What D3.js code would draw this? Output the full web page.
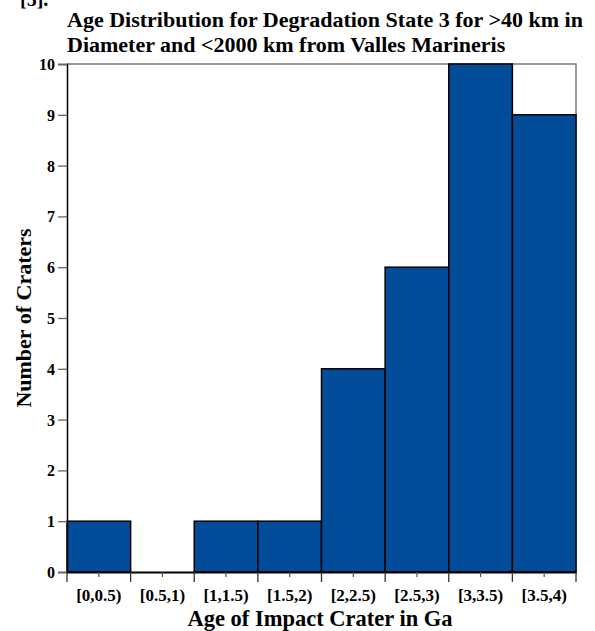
<!DOCTYPE html>
<html><head><meta charset="utf-8">
<script src="https://cdn.jsdelivr.net/npm/d3@7"></script>
<style>body{margin:0;background:#fff}text{font-family:"Liberation Serif","Times New Roman",serif;font-weight:bold;fill:#000}</style>
</head><body>
<svg id="c" width="595" height="631"></svg>
<script>
const categories = ["[0,0.5)","[0.5,1)","[1,1.5)","[1.5,2)","[2,2.5)","[2.5,3)","[3,3.5)","[3.5,4)"];
const counts = [1,0,1,1,4,6,10,9];
const yTicks = [0,1,2,3,4,5,6,7,8,9,10];
const titleLines = ["Age Distribution for Degradation State 3 for >40 km in","Diameter and <2000 km from Valles Marineris"];
const xTitle = "Age of Impact Crater in Ga";
const yTitle = "Number of Craters";

const svg = d3.select("#c");
const L=67,R=576,T=64,B=572;
const x = d3.scaleBand().domain(categories).range([L,R]).padding(0);
const y = d3.scaleLinear().domain([0,10]).range([B,T]);

svg.append("text").attr("x",20).attr("y",6).style("font-size","20px").text("[5].");

titleLines.forEach((t,i)=>svg.append("text").attr("x",67).attr("y",27+i*25).style("font-size","22px").text(t));

// frame top/right
svg.append("path").attr("d",`M${L},${T}H${R}V${B}`).attr("fill","none").attr("stroke","#777").attr("stroke-width",1.5);

svg.append("g").selectAll("rect").data(counts).join("rect")
  .attr("x",(d,i)=>x(categories[i])).attr("width",x.bandwidth())
  .attr("y",d=>y(d)).attr("height",d=>B-y(d))
  .attr("fill","#034C99").attr("stroke","#000").attr("stroke-width",1.5);

// y axis
const ya = svg.append("g").attr("transform",`translate(${L},0)`)
  .call(d3.axisLeft(y).tickValues(yTicks).tickSize(9).tickPadding(3).tickFormat(d3.format("d")));
ya.select(".domain").attr("stroke","#000").attr("stroke-width",1.5);
ya.selectAll(".tick line").attr("stroke","#666").attr("stroke-width",1.3);
ya.selectAll("text").style("font-size","16px").attr("dy","0.34em");

// x axis
const xa = svg.append("g").attr("transform",`translate(0,${B})`)
  .call(d3.axisBottom(x).tickSize(0).tickPadding(17));
xa.select(".domain").attr("stroke","#000").attr("stroke-width",2);
xa.selectAll("text").style("font-size","17px");
const edges = categories.map(c=>x(c)).concat([R]);
xa.selectAll("line.edge").data(edges).join("line").attr("class","edge")
  .attr("x1",d=>d).attr("x2",d=>d).attr("y1",0).attr("y2",10).attr("stroke","#333").attr("stroke-width",1.3);
xa.selectAll("line.mid").data(categories).join("line").attr("class","mid")
  .attr("x1",d=>x(d)+x.bandwidth()/2).attr("x2",d=>x(d)+x.bandwidth()/2).attr("y1",0).attr("y2",5).attr("stroke","#555").attr("stroke-width",1.2);

svg.append("text").attr("x",320).attr("y",626).attr("text-anchor","middle").style("font-size","22.5px").text(xTitle);
svg.append("text").attr("transform",`translate(31,${(T+B)/2}) rotate(-90)`).attr("text-anchor","middle").style("font-size","22px").text(yTitle);
</script></body></html>
